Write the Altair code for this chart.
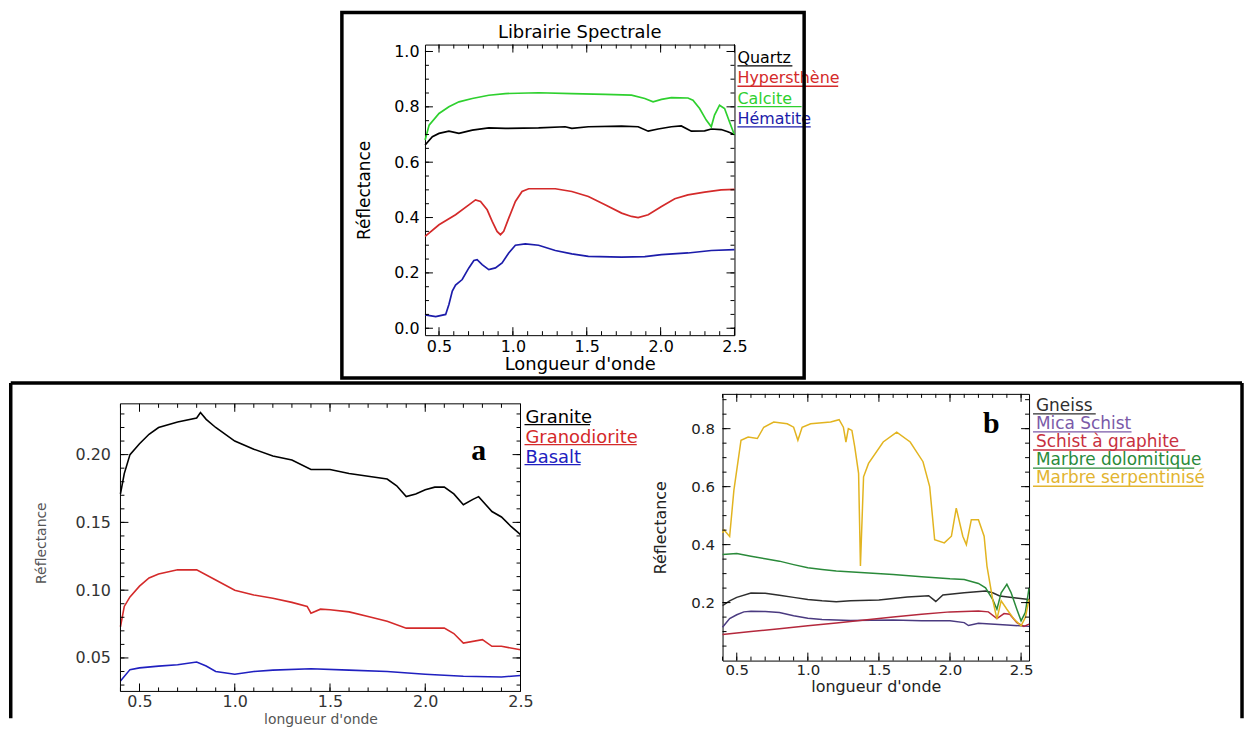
import altair as alt
import pandas as pd

FONT = "DejaVu Sans"

# ---------------- Top panel : Librairie Spectrale ----------------
top_names = ["Quartz", "Hypersthène", "Calcite", "Hématite"]
top_colors = ["#000000", "#d42a2a", "#2ed02e", "#1c1caa"]

quartz_x = [0.406, 0.455, 0.5, 0.567, 0.635, 0.725, 0.837, 0.949, 1.174, 1.354, 1.399, 1.511,
            1.736, 1.848, 1.916, 1.983, 2.073, 2.14, 2.208, 2.298, 2.343, 2.41, 2.455, 2.5]
quartz_y = [0.662, 0.692, 0.704, 0.712, 0.704, 0.716, 0.724, 0.722, 0.724, 0.728, 0.722, 0.728,
            0.730, 0.728, 0.712, 0.720, 0.728, 0.731, 0.712, 0.713, 0.720, 0.718, 0.710, 0.700]

calcite_x = [0.406, 0.433, 0.5, 0.567, 0.635, 0.725, 0.837, 0.949, 1.174, 1.399, 1.624, 1.803, 1.893,
             1.949, 2.006, 2.073, 2.185, 2.219, 2.264, 2.309, 2.343, 2.365, 2.399, 2.433, 2.466, 2.5]
calcite_y = [0.68, 0.734, 0.776, 0.8, 0.818, 0.83, 0.842, 0.848, 0.851, 0.848, 0.845, 0.842, 0.83,
             0.818, 0.827, 0.833, 0.832, 0.824, 0.794, 0.752, 0.728, 0.77, 0.806, 0.794, 0.746, 0.698]

hyper_x = [0.406, 0.5, 0.612, 0.702, 0.747, 0.781, 0.826, 0.86, 0.893, 0.916, 0.938, 0.972, 1.017,
           1.062, 1.107, 1.287, 1.399, 1.511, 1.624, 1.736, 1.803, 1.848, 1.916, 2.006, 2.096,
           2.185, 2.298, 2.41, 2.5]
hyper_y = [0.332, 0.374, 0.41, 0.446, 0.464, 0.458, 0.428, 0.386, 0.35, 0.338, 0.35, 0.398, 0.458,
           0.494, 0.504, 0.504, 0.494, 0.476, 0.446, 0.416, 0.404, 0.4, 0.41, 0.44, 0.468,
           0.482, 0.492, 0.5, 0.502]

hema_x = [0.406, 0.478, 0.545, 0.567, 0.59, 0.612, 0.657, 0.702, 0.736, 0.758, 0.792, 0.837, 0.882,
          0.927, 0.972, 1.017, 1.084, 1.174, 1.287, 1.399, 1.511, 1.736, 1.893, 2.006, 2.185,
          2.343, 2.5]
hema_y = [0.048, 0.042, 0.05, 0.086, 0.134, 0.156, 0.176, 0.218, 0.245, 0.248, 0.23, 0.212, 0.218,
          0.236, 0.272, 0.3, 0.305, 0.3, 0.281, 0.269, 0.26, 0.257, 0.259, 0.266, 0.272,
          0.281, 0.284]

# ---------------- Panel a ----------------
a_names = ["Granite", "Granodiorite", "Basalt"]
a_colors = ["#000000", "#d42a2a", "#2020c0"]

granite_x = [0.40, 0.42, 0.45, 0.50, 0.55, 0.60, 0.70, 0.80, 0.82, 0.85, 0.90, 1.00, 1.10, 1.20,
             1.30, 1.40, 1.50, 1.60, 1.70, 1.80, 1.85, 1.90, 1.95, 2.00, 2.05, 2.10, 2.15, 2.20,
             2.25, 2.28, 2.35, 2.40, 2.45, 2.50]
granite_y = [0.171, 0.186, 0.200, 0.208, 0.215, 0.220, 0.224, 0.227, 0.231, 0.226, 0.220, 0.210,
             0.204, 0.199, 0.196, 0.189, 0.189, 0.186, 0.184, 0.182, 0.177, 0.169, 0.171, 0.174,
             0.176, 0.176, 0.171, 0.163, 0.167, 0.169, 0.158, 0.154, 0.147, 0.141]

grano_x = [0.40, 0.42, 0.45, 0.50, 0.55, 0.60, 0.70, 0.80, 0.90, 1.00, 1.10, 1.20, 1.30, 1.38,
           1.40, 1.45, 1.50, 1.60, 1.70, 1.80, 1.90, 2.00, 2.10, 2.15, 2.20, 2.30, 2.35, 2.40, 2.50]
grano_y = [0.073, 0.088, 0.095, 0.103, 0.109, 0.112, 0.115, 0.115, 0.1075, 0.100, 0.0965, 0.094,
           0.091, 0.088, 0.083, 0.086, 0.0855, 0.084, 0.0806, 0.077, 0.072, 0.072, 0.072, 0.068,
           0.061, 0.0635, 0.0586, 0.0586, 0.056]

basalt_x = [0.40, 0.45, 0.50, 0.60, 0.70, 0.80, 0.85, 0.90, 1.00, 1.10, 1.20, 1.40, 1.60, 1.80,
            2.00, 2.20, 2.40, 2.50]
basalt_y = [0.033, 0.0414, 0.0427, 0.044, 0.045, 0.047, 0.044, 0.040, 0.038, 0.040, 0.041, 0.042,
            0.041, 0.040, 0.038, 0.0365, 0.036, 0.037]

# ---------------- Panel b ----------------
b_names = ["Gneiss", "Mica Schist", "Schist à graphite", "Marbre dolomitique", "Marbre serpentinisé"]
b_labels = ["\u00a0Gneiss", "Mica Schist", "Schist à graphite", "Marbre dolomitique", "Marbre serpentinisé"]
b_colors = ["#2e2e2e", "#4a3a80", "#b4283c", "#2a8a3a", "#e2b420"]
b_text_colors = ["#2e2e2e", "#7a5aa8", "#c83040", "#2a8a3a", "#e2b430"]

gneiss_x = [0.40, 0.45, 0.50, 0.60, 0.70, 0.80, 0.90, 1.00, 1.10, 1.20, 1.30, 1.50, 1.70, 1.85,
            1.90, 1.95, 2.10, 2.25, 2.30, 2.35, 2.45, 2.556]
gneiss_y = [0.19, 0.206, 0.218, 0.233, 0.232, 0.225, 0.218, 0.211, 0.206, 0.203, 0.206, 0.209,
            0.219, 0.224, 0.204, 0.226, 0.234, 0.24, 0.234, 0.223, 0.217, 0.211]

mica_x = [0.40, 0.45, 0.50, 0.55, 0.60, 0.70, 0.80, 0.90, 1.00, 1.10, 1.30, 1.60, 1.80, 2.00,
          2.10, 2.13, 2.20, 2.40, 2.556]
mica_y = [0.115, 0.145, 0.158, 0.168, 0.17, 0.169, 0.166, 0.155, 0.146, 0.142, 0.138, 0.14, 0.137,
          0.137, 0.131, 0.121, 0.129, 0.123, 0.118]

graph_x = [0.40, 0.60, 0.80, 1.00, 1.20, 1.40, 1.60, 1.80, 2.00, 2.20, 2.27, 2.33, 2.38, 2.42,
           2.47, 2.52, 2.556]
graph_y = [0.09, 0.1, 0.11, 0.12, 0.13, 0.14, 0.15, 0.16, 0.168, 0.171, 0.168, 0.145, 0.162, 0.16,
           0.131, 0.118, 0.126]

dolo_x = [0.40, 0.50, 0.60, 0.70, 0.80, 0.90, 1.00, 1.10, 1.20, 1.40, 1.60, 1.80, 2.00, 2.10, 2.20,
          2.25, 2.30, 2.33, 2.36, 2.40, 2.43, 2.47, 2.50, 2.53, 2.556]
dolo_y = [0.366, 0.369, 0.36, 0.351, 0.343, 0.331, 0.32, 0.314, 0.309, 0.303, 0.297, 0.289, 0.282,
          0.28, 0.266, 0.251, 0.211, 0.177, 0.234, 0.263, 0.234, 0.177, 0.137, 0.166, 0.251]

serp_x = [0.40, 0.41, 0.45, 0.48, 0.53, 0.58, 0.645, 0.69, 0.76, 0.855, 0.90, 0.93, 0.96, 1.02,
          1.16, 1.22, 1.25, 1.268, 1.285, 1.31, 1.33, 1.357, 1.37, 1.392, 1.427, 1.53, 1.625, 1.72,
          1.81, 1.857, 1.892, 1.96, 2.01, 2.044, 2.09, 2.115, 2.15, 2.20, 2.24, 2.26, 2.30, 2.33,
          2.36, 2.40, 2.45, 2.50, 2.53, 2.556]
serp_y = [0.44, 0.451, 0.428, 0.588, 0.76, 0.771, 0.766, 0.805, 0.823, 0.817, 0.805, 0.76, 0.805,
          0.817, 0.823, 0.831, 0.805, 0.754, 0.8, 0.794, 0.737, 0.646, 0.326, 0.634, 0.68, 0.754,
          0.788, 0.754, 0.686, 0.6, 0.417, 0.406, 0.429, 0.526, 0.429, 0.4, 0.486, 0.486, 0.429,
          0.326, 0.211, 0.143, 0.206, 0.177, 0.143, 0.12, 0.149, 0.211]


def long_df(names, colors, xs, ys):
    rows = []
    for n, c, xx, yy in zip(names, colors, xs, ys):
        for k, (a, b) in enumerate(zip(xx, yy)):
            rows.append({"s": n, "c": c, "x": a, "y": b, "k": k})
    return pd.DataFrame(rows)


def ticks(start, stop, step):
    n = int(round((stop - start) / step))
    return [round(start + i * step, 4) for i in range(n + 1)]


ONE = pd.DataFrame({"v": [0]})
COMMON = dict(domain=False, grid=False, labelFlush=False, labelOverlap=False,
              ticks=False, tickSize=0)


def legend_layers(labels, colors, x0, y0, dy, fs, cw, uoff, ux0):
    ld = pd.DataFrame({"label": labels, "c": colors, "i": list(range(len(labels)))})
    base = alt.Chart(ld).transform_calculate(
        ly=f"{y0} + datum.i * {dy}",
        uy=f"{y0 + uoff} + datum.i * {dy}",
        tx=f"{x0}",
        ux1=f"{ux0}",
        ux2=f"{ux0} + length(datum.label) * {cw}",
    )
    txt = base.mark_text(align="left", baseline="middle", font=FONT, fontSize=fs).encode(
        x=alt.X("tx:Q", scale=None, axis=None),
        y=alt.Y("ly:Q", scale=None, axis=None),
        text="label:N",
        color=alt.Color("c:N", scale=None, legend=None),
    )
    ul = base.mark_rule(strokeWidth=1.3).encode(
        x=alt.X("ux1:Q", scale=None, axis=None),
        x2="ux2:Q",
        y=alt.Y("uy:Q", scale=None, axis=None),
        color=alt.Color("c:N", scale=None, legend=None),
    )
    return [ul, txt]


def panel(df, W, H, xdom, ydom, xmaj, xmin, ymaj, ymin, yfmt, st,
          extras, top_shift=0, major=8, minor=4, sw=1.5, box=True):
    xs = alt.Scale(domain=xdom, nice=False, zero=False)
    ys = alt.Scale(domain=ydom, nice=False, zero=False)
    xb = alt.Axis(orient="bottom", values=xmaj, format=".1f",
                  labelPadding=st["xpad"], labelFont=FONT, labelFontSize=st["fs"],
                  labelColor=st["lc"], title=st["xt"], titleFont=FONT,
                  titleFontSize=st["xtfs"], titleFontWeight="normal", titleColor=st["tc"],
                  titlePadding=st["xtp"], **COMMON)
    yl = alt.Axis(orient="left", values=ymaj, format=yfmt,
                  labelPadding=st["ypad"], labelFont=FONT, labelFontSize=st["fs"],
                  labelColor=st["lc"], title=st["yt"], titleFont=FONT,
                  titleFontSize=st["ytfs"], titleFontWeight="normal", titleColor=st["tc"],
                  titlePadding=st["ytp"], **COMMON)
    lines = alt.Chart(df).mark_line(strokeWidth=sw).encode(
        x=alt.X("x:Q", scale=xs, axis=xb),
        y=alt.Y("y:Q", scale=ys, axis=yl),
        color=alt.Color("c:N", scale=None, legend=None),
        detail="s:N",
        order="k:Q",
    )

    # inward tick marks on the four sides, placed through the panel's own scales
    xt = pd.DataFrame({"tv": xmaj + xmin, "len": [major] * len(xmaj) + [minor] * len(xmin)})
    yt = pd.DataFrame({"tv": ymaj + ymin, "len": [major] * len(ymaj) + [minor] * len(ymin)})

    def xticks(edge, sign):
        return alt.Chart(xt).mark_rule(color="black", strokeWidth=1).transform_calculate(
            t1=f"{edge}", t2=f"{edge} + {sign} * datum.len").encode(
            x=alt.X("tv:Q", scale=xs, axis=xb),
            y=alt.Y("t1:Q", scale=None, axis=None), y2="t2:Q")

    def yticks(edge, sign):
        return alt.Chart(yt).mark_rule(color="black", strokeWidth=1).transform_calculate(
            t1=f"{edge}", t2=f"{edge} + {sign} * datum.len").encode(
            y=alt.Y("tv:Q", scale=ys, axis=yl),
            x=alt.X("t1:Q", scale=None, axis=None), x2="t2:Q")

    layers = [lines, xticks(H, -1), xticks(top_shift, 1), yticks(0, 1), yticks(W, -1)]
    if not box:
        layers.append(alt.Chart(ONE).mark_rect(filled=False, stroke="black", strokeWidth=1).encode(
            x=alt.value(0), x2=alt.value(W), y=alt.value(top_shift), y2=alt.value(H)))
    layers += extras
    view = alt.ViewBackground(stroke="black", strokeWidth=1) if box else \
        alt.ViewBackground(stroke="transparent")
    return alt.layer(*layers).properties(width=W, height=H, view=view)


# ---------- top ----------
TW, TH = 311, 292
top_df = long_df(top_names, top_colors, [quartz_x, hyper_x, calcite_x, hema_x],
                 [quartz_y, hyper_y, calcite_y, hema_y])
top_extras = legend_layers(top_names, top_colors, TW + 3, 13.5, 20.4, 16, 9.2, 8, TW + 3)
top_extras.append(alt.Chart(ONE).mark_text(text="Librairie Spectrale", font=FONT, fontSize=18,
                                           align="center", baseline="middle", color="black")
                  .encode(x=alt.value(TW / 2), y=alt.value(-12)))
top_extras.append(alt.Chart(ONE).mark_rect(filled=False, stroke="black", strokeWidth=3.5).encode(
    x=alt.value(-83.5), x2=alt.value(TW + 70), y=alt.value(-32.25), y2=alt.value(TH + 43)))
top = panel(top_df, TW, TH, [0.405, 2.5], [-0.025, 1.025],
            ticks(0.5, 2.5, 0.5), ticks(0.5, 2.5, 0.1), ticks(0.0, 1.0, 0.2), ticks(0.0, 1.0, 0.05),
            ".1f",
            dict(xpad=3, ypad=6, fs=16, lc="black", tc="black", xt="Longueur d'onde", xtfs=18,
                 xtp=2, yt="Réflectance", ytfs=17, ytp=20),
            top_extras, sw=1.7)

# ---------- a ----------
AW, AH, ASH = 402, 299, 10
a_df = long_df(a_names, a_colors, [granite_x, grano_x, basalt_x], [granite_y, grano_y, basalt_y])
a_extras = legend_layers(a_names, a_colors, AW + 5, 24, 20, 18, 9.4, 7, AW + 4)
a_extras.append(alt.Chart(ONE).mark_text(text="a", font="Liberation Serif", fontWeight="bold",
                                         fontSize=30, align="center", baseline="middle",
                                         color="black")
                .encode(x=alt.value(360), y=alt.value(57)))
# outer frame of the lower figure (left, top, right sides)
a_extras.append(alt.Chart(ONE).mark_rule(strokeWidth=3.5, color="black").encode(
    x=alt.value(-110.25), y=alt.value(-11), y2=alt.value(326)))
a_extras.append(alt.Chart(ONE).mark_rule(strokeWidth=3.5, color="black").encode(
    x=alt.value(-110.25), x2=alt.value(1127), y=alt.value(-11)))
a_extras.append(alt.Chart(ONE).mark_rule(strokeWidth=3.5, color="black").encode(
    x=alt.value(1127), y=alt.value(-11), y2=alt.value(326)))
pa = panel(a_df, AW, AH, [0.4, 2.5], [0.0253, 0.2448],
           ticks(0.5, 2.5, 0.5), ticks(0.4, 2.5, 0.1), ticks(0.05, 0.20, 0.05), ticks(0.03, 0.23, 0.01),
           ".2f",
           dict(xpad=2, ypad=10, fs=16, lc="#333333", tc="#555555", xt="longueur d'onde", xtfs=14,
                xtp=3, yt="Réflectance", ytfs=14, ytp=27),
           a_extras, top_shift=ASH, box=False, sw=1.6)

# ---------- b ----------
BW, BH = 308, 268
b_df = long_df(b_names, b_colors, [gneiss_x, mica_x, graph_x, dolo_x, serp_x],
               [gneiss_y, mica_y, graph_y, dolo_y, serp_y])
b_extras = legend_layers(b_labels, b_text_colors, BW + 7, 12, 18.2, 17, 9.0, 8, BW + 4)
b_extras.append(alt.Chart(ONE).mark_text(text="b", font="Liberation Serif", fontWeight="bold",
                                         fontSize=30, align="center", baseline="middle",
                                         color="black")
                .encode(x=alt.value(270), y=alt.value(30)))
pb = panel(b_df, BW, BH, [0.4, 2.556], [0.0, 0.92],
           ticks(0.5, 2.5, 0.5), ticks(0.4, 2.5, 0.1), ticks(0.2, 0.8, 0.2), ticks(0.05, 0.9, 0.05),
           ".1f",
           dict(xpad=2, ypad=8, fs=15, lc="#222222", tc="#222222", xt="longueur d'onde", xtfs=16,
                xtp=1, yt="Réflectance", ytfs=16, ytp=22),
           b_extras, sw=1.5)

spacer = alt.Chart(ONE).mark_point(opacity=0).encode(
    x=alt.X("v:Q", axis=None), y=alt.Y("v:Q", axis=None)
).properties(width=103, height=10, view=alt.ViewBackground(stroke="transparent"))

row_top = alt.hconcat(spacer, top, spacing=203, bounds="flush")
row_bottom = alt.hconcat(pa, pb, spacing=203, bounds="flush")

chart = alt.vconcat(
    row_top, row_bottom, spacing=351, bounds="flush", padding=0,
).configure_view(stroke="transparent").configure(background="white")

chart.save("out.html", embed_options={"renderer": "svg", "actions": False})
